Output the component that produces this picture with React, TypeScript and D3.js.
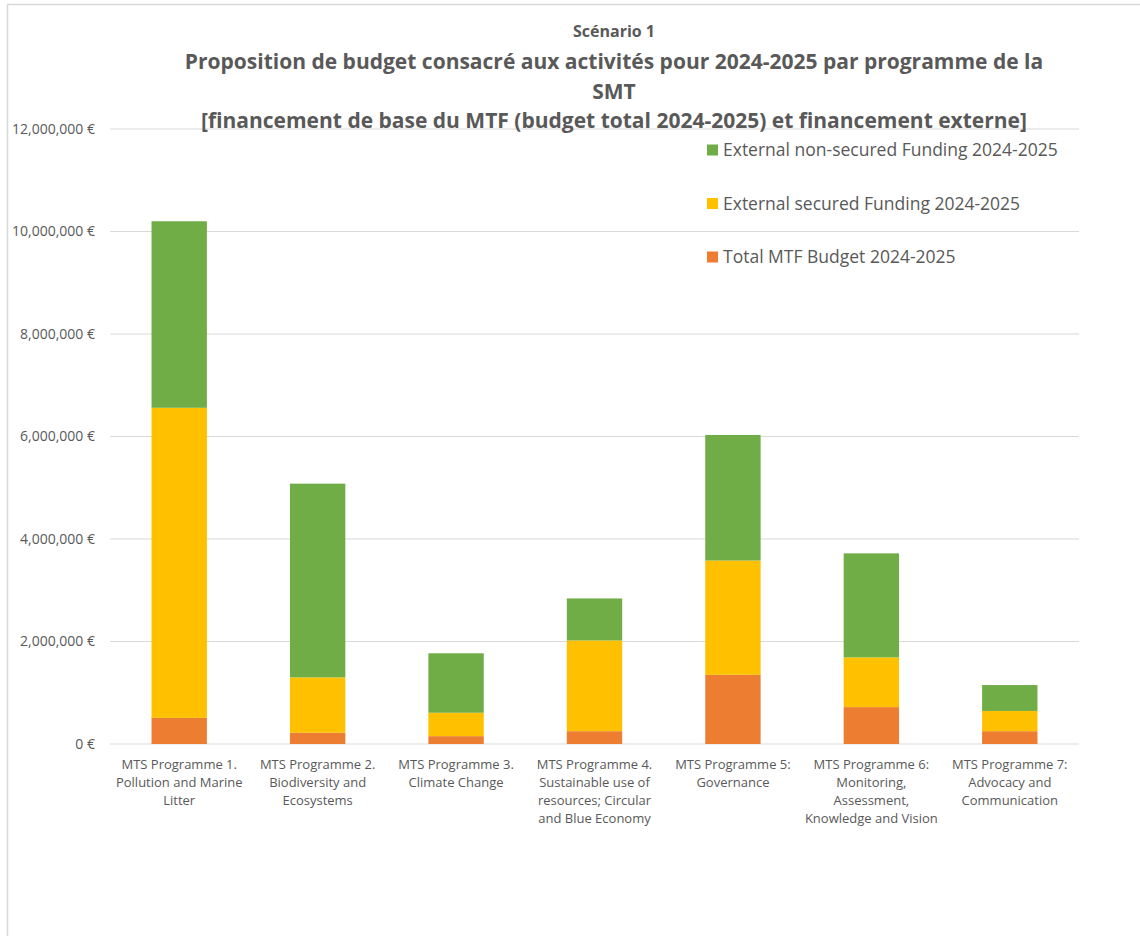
import React from "react";
import * as d3 from "d3";

const categories = [
  "MTS Programme 1. Pollution and Marine Litter",
  "MTS Programme 2. Biodiversity and Ecosystems",
  "MTS Programme 3. Climate Change",
  "MTS Programme 4. Sustainable use of resources; Circular and Blue Economy",
  "MTS Programme 5: Governance",
  "MTS Programme 6: Monitoring, Assessment, Knowledge and Vision",
  "MTS Programme 7: Advocacy and Communication",
];
const categoryLines = [
  ["MTS Programme 1.", "Pollution and Marine", "Litter"],
  ["MTS Programme 2.", "Biodiversity and", "Ecosystems"],
  ["MTS Programme 3.", "Climate Change"],
  ["MTS Programme 4.", "Sustainable use of", "resources; Circular", "and Blue Economy"],
  ["MTS Programme 5:", "Governance"],
  ["MTS Programme 6:", "Monitoring,", "Assessment,", "Knowledge and Vision"],
  ["MTS Programme 7:", "Advocacy and", "Communication"],
];
const totalMTF = [510000, 220000, 153000, 250000, 1350000, 720000, 250000];
const externalSecured = [6050000, 1080000, 457000, 1770000, 2230000, 970000, 395000];
const externalNonSecured = [3640000, 3780000, 1160000, 820000, 2450000, 2030000, 505000];
const seriesNames = [
  "Total MTF Budget 2024-2025",
  "External secured Funding 2024-2025",
  "External non-secured Funding 2024-2025",
];
const seriesColors = ["#ED7D31", "#FFC000", "#70AD47"];
const yTicks = [0, 2000000, 4000000, 6000000, 8000000, 10000000, 12000000];
const subtitle = "Scénario 1";
const titleLines = [
  "Proposition de budget consacré aux activités pour 2024-2025 par programme de la",
  "SMT",
  "[financement de base du MTF (budget total 2024-2025) et financement externe]",
];

const FONT = "'Open Sans', 'Liberation Sans', Arial, sans-serif";
const TXT = "#595959";

export default function App() {
  const W = 1140, H = 936;
  const left = 110, right = 1079, top = 129, bottom = 744;

  const x = d3.scaleBand<number>().domain(d3.range(categories.length)).range([left, right]).paddingInner(0.6).paddingOuter(0.3);
  const y = d3.scaleLinear().domain([0, 12000000]).range([bottom, top]);

  const rows = categories.map((c, i) => ({
    i,
    s0: totalMTF[i],
    s1: externalSecured[i],
    s2: externalNonSecured[i],
  }));
  const stack = d3.stack<any>().keys(["s0", "s1", "s2"])(rows);

  const fmt = (v: number) => (v === 0 ? "0 €" : d3.format(",")(v) + " €");

  const legendOrder = [2, 1, 0];

  return (
    <svg width={W} height={H} style={{ position: "absolute", left: 0, top: 0, background: "#fff" }} fontFamily={FONT}>
      <rect x={0} y={0} width={W} height={H} fill="#fff" />
      <rect x={7.5} y={4.5} width={W + 10} height={H + 10} fill="none" stroke="#D9D9D9" strokeWidth={1.5} />
      {yTicks.map((t) => (
        <g key={t}>
          <line x1={left} x2={right} y1={y(t)} y2={y(t)} stroke="#D9D9D9" strokeWidth={1.2} />
          <text x={95} y={y(t)} dy="0.35em" textAnchor="end" fontSize={14} fill={TXT}>
            {fmt(t)}
          </text>
        </g>
      ))}
      {stack.map((layer, si) => (
        <g key={si} fill={seriesColors[si]}>
          {layer.map((d: any, i: number) => (
            <rect key={i} x={x(i)!} width={x.bandwidth()} y={y(d[1])} height={y(d[0]) - y(d[1])} />
          ))}
        </g>
      ))}
      {categoryLines.map((lines, i) => (
        <text key={i} x={x(i)! + x.bandwidth() / 2} y={769} textAnchor="middle" fontSize={13} fill={TXT}>
          {lines.map((l, k) => (
            <tspan key={k} x={x(i)! + x.bandwidth() / 2} dy={k === 0 ? 0 : 18}>
              {l}
            </tspan>
          ))}
        </text>
      ))}
      <text x={614} y={37} textAnchor="middle" fontSize={16} fontWeight="bold" fill={TXT}>
        {subtitle}
      </text>
      {titleLines.map((l, k) => (
        <text key={k} x={614} y={69 + k * 29.5} textAnchor="middle" fontSize={21} fontWeight="bold" fill={TXT}>
          {l}
        </text>
      ))}
      {legendOrder.map((si, k) => (
        <g key={si} transform={`translate(707, ${150 + k * 53.5})`}>
          <rect x={0} y={-5.5} width={11} height={11} fill={seriesColors[si]} />
          <text x={16} y={0} dy="0.35em" fontSize={17.5} fill={TXT}>
            {seriesNames[si]}
          </text>
        </g>
      ))}
    </svg>
  );
}
